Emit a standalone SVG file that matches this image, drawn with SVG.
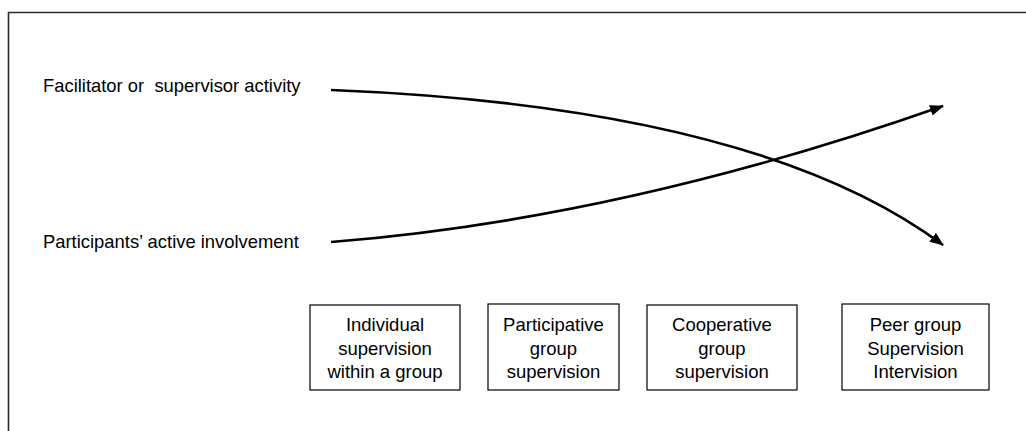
<svg xmlns="http://www.w3.org/2000/svg" width="1026" height="431" viewBox="0 0 1026 431">
<style>
text{font-family:"Liberation Sans",Arial,sans-serif;fill:#000}
.lbl{font-size:18.4px;white-space:pre}
.bx{font-size:18.5px;text-anchor:middle}
.box{fill:#fff;stroke:#000;stroke-width:1.2}
.conn{fill:none;stroke:#000;stroke-width:2.6}
</style>
<defs>
<marker id="ah" markerWidth="14" markerHeight="11" refX="13" refY="5.5" orient="auto" markerUnits="userSpaceOnUse">
<path d="M0,0 L14,5.5 L0,11 Z" fill="#000"/>
</marker>
</defs>
<rect width="1026" height="431" fill="#fff"/>
<path d="M8.5,431 V12.5 H1026" fill="none" stroke="#2a2a2a" stroke-width="1.6"/>
<g id="label-facilitator"><text class="lbl" x="43" y="92" xml:space="preserve">Facilitator or  supervisor activity</text></g>
<g id="label-participants"><text class="lbl" x="43" y="248">Participants’ active involvement</text></g>
<g id="connectors">
<path class="conn" d="M331,90 Q758,107 943,245" marker-end="url(#ah)"/>
<path class="conn" d="M331,242 Q622,219 943,106" marker-end="url(#ah)"/>
</g>
<g id="box-individual">
<rect class="box" x="310" y="305" width="150" height="85"/>
<text class="bx" x="385" y="331">Individual</text>
<text class="bx" x="385" y="355">supervision</text>
<text class="bx" x="385" y="378">within a group</text>
</g>
<g id="box-participative">
<rect class="box" x="488" y="304" width="131" height="86"/>
<text class="bx" x="553.5" y="331">Participative</text>
<text class="bx" x="553.5" y="355">group</text>
<text class="bx" x="553.5" y="378">supervision</text>
</g>
<g id="box-cooperative">
<rect class="box" x="647" y="305" width="150" height="85"/>
<text class="bx" x="722" y="331">Cooperative</text>
<text class="bx" x="722" y="355">group</text>
<text class="bx" x="722" y="378">supervision</text>
</g>
<g id="box-peer">
<rect class="box" x="842" y="304" width="147" height="86"/>
<text class="bx" x="915.5" y="331">Peer group</text>
<text class="bx" x="915.5" y="355">Supervision</text>
<text class="bx" x="915.5" y="378">Intervision</text>
</g>
</svg>
